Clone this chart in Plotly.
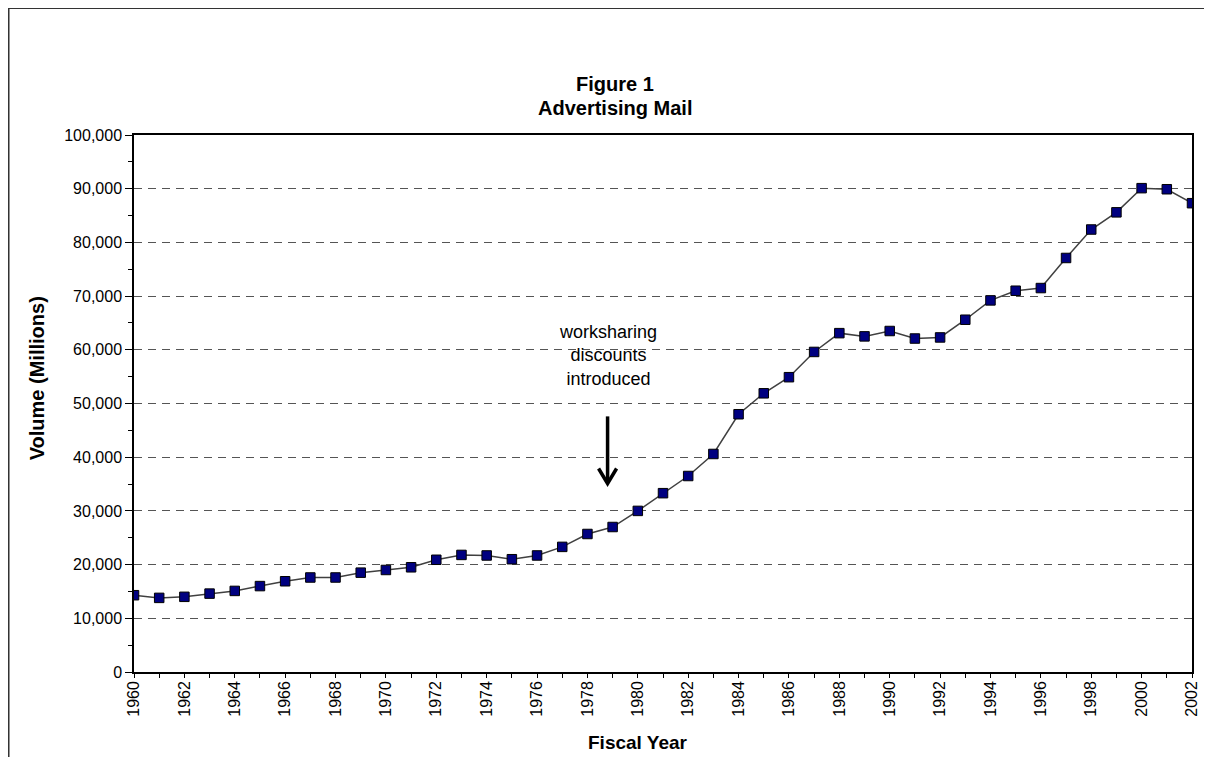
import plotly.graph_objects as go

years = list(range(1960, 2003))
volume = [14300, 13800, 14000, 14600, 15100, 16000, 16900, 17600, 17600, 18500,
          19000, 19500, 20900, 21800, 21700, 21000, 21700, 23300, 25700, 27000,
          30000, 33300, 36500, 40600, 48000, 51900, 54900, 59600, 63100, 62500,
          63500, 62100, 62300, 65600, 69200, 71000, 71500, 77100, 82400, 85600,
          90100, 89900, 87300]

title_line1 = "Figure 1"
title_line2 = "Advertising Mail"
y_title = "Volume (Millions)"
x_title = "Fiscal Year"
note_lines = ["worksharing", "discounts", "introduced"]
note_year = 1978.8
arrow_top = 47600
arrow_tip = 35100
note_y = 58950

FONT = "Liberation Sans, Arial, sans-serif"

fig = go.Figure()
fig.add_trace(go.Scatter(
    x=years, y=volume, mode="lines+markers",
    line=dict(color="#404040", width=1.5),
    marker=dict(symbol="square", size=9.5, color="#000080",
                line=dict(color="#000000", width=1)),
    showlegend=False, hoverinfo="x+y"))

# page has an 8px body margin; plot area lands at x 134..1188, y 135..664
fig.update_layout(
    width=1204, height=749,
    margin=dict(l=126, r=16, t=127, b=85),
    paper_bgcolor="white", plot_bgcolor="white",
    font=dict(family=FONT, color="#000000", size=16),
)

fig.update_xaxes(
    range=[1960, 2002], tickmode="linear", tick0=1960, dtick=2,
    tickangle=-90, showgrid=False, zeroline=False,
    showline=True, linecolor="#000000", linewidth=1.5, mirror=True,
    ticks="outside", ticklen=4, tickcolor="#000000", tickwidth=1,
    ticklabelstandoff=-3,
    tickfont=dict(size=16, family=FONT),
    minor=dict(dtick=1, tick0=1960, ticks="outside", ticklen=4,
               tickcolor="#000000", showgrid=False),
)
fig.update_yaxes(
    range=[0, 100000], tickmode="linear", tick0=0, dtick=10000,
    tickformat=",d", showgrid=True, gridcolor="#555555", gridwidth=1,
    griddash="8px,6px", zeroline=False,
    showline=True, linecolor="#000000", linewidth=1.5, mirror=True,
    ticks="outside", ticklen=7, tickcolor="#000000", tickwidth=1,
    tickfont=dict(size=16, family=FONT),
    minor=dict(dtick=5000, tick0=0, ticks="outside", ticklen=4,
               tickcolor="#000000", showgrid=False),
)

# Title (two lines)
fig.add_annotation(
    text="<b>" + title_line1 + "</b>",
    xref="paper", yref="paper", x=0.455, y=(664 - 85) / 529,
    xanchor="center", yanchor="middle", showarrow=False,
    font=dict(size=20, family=FONT))
fig.add_annotation(
    text="<b>" + title_line2 + "</b>",
    xref="paper", yref="paper", x=0.455, y=(664 - 108) / 529,
    xanchor="center", yanchor="middle", showarrow=False,
    font=dict(size=20, family=FONT))

# Axis titles
fig.add_annotation(
    text="<b>" + y_title + "</b>", textangle=-90,
    xref="paper", yref="paper", x=(37 - 134) / 1054, y=(664 - 375) / 529,
    xanchor="center", yanchor="middle", showarrow=False,
    font=dict(size=20, family=FONT))
fig.add_annotation(
    text="<b>" + x_title + "</b>",
    xref="paper", yref="paper", x=(636 - 134) / 1054, y=(664 - 733) / 529,
    xanchor="center", yanchor="middle", showarrow=False,
    font=dict(size=19, family=FONT))

# Note
fig.add_annotation(
    text="<br>".join(note_lines),
    x=note_year, y=note_y, xanchor="center", yanchor="middle",
    showarrow=False, font=dict(size=18, family=FONT))

# Arrow shaft and open head
fig.add_shape(type="line", x0=note_year, x1=note_year, y0=arrow_top, y1=arrow_tip + 300,
              line=dict(color="#000000", width=3.5))
fig.add_shape(type="path", xsizemode="pixel", ysizemode="pixel",
              xanchor=note_year, yanchor=arrow_tip,
              path="M -9,15 L 0,0 L 9,15",
              line=dict(color="#000000", width=3.5))

# Outer frame (top and left edges)
frame_x = (9 - 134) / 1054
frame_y = (664 - 10) / 529
fig.add_shape(type="line", xref="paper", yref="paper",
              x0=frame_x, x1=1.1, y0=frame_y, y1=frame_y,
              line=dict(color="#333333", width=2))
fig.add_shape(type="line", xref="paper", yref="paper",
              x0=frame_x, x1=frame_x, y0=-0.3, y1=frame_y,
              line=dict(color="#333333", width=2))

fig.write_html("out.html")
